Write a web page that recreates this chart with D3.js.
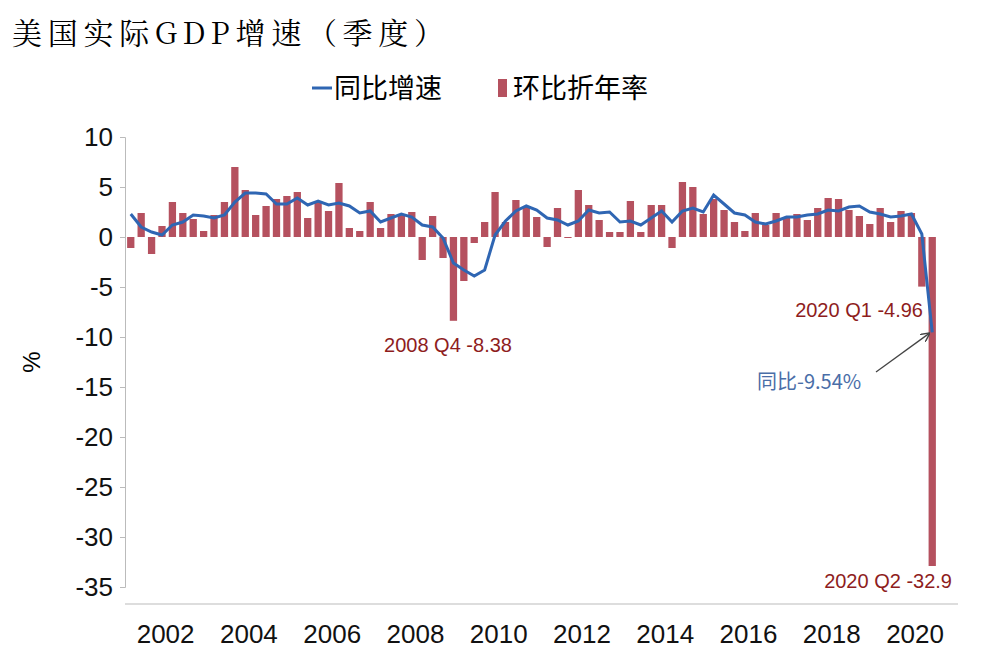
<!DOCTYPE html><html><head><meta charset="utf-8">
<script src="https://cdn.jsdelivr.net/npm/d3@7"></script>
<style>body{margin:0;background:#fff}</style></head><body>
<svg id="c" width="1000" height="668"></svg>
<script>
const years=[2001,2002,2003,2004,2005,2006,2007,2008,2009,2010,2011,2012,2013,2014,2015,2016,2017,2018,2019,2020];
const qoq=[-1.1,2.4,-1.7,1.1, 3.5,2.4,1.8,0.6, 2.2,3.5,7.0,4.7, 2.2,3.1,3.8,4.1, 4.5,1.9,3.6,2.6,
 5.4,0.9,0.6,3.5, 0.9,2.3,2.2,2.5, -2.3,2.1,-2.1,-8.38, -4.4,-0.6,1.5,4.5, 1.5,3.7,3.0,2.0,
 -1.0,2.9,-0.1,4.7, 3.2,1.7,0.5,0.5, 3.6,0.5,3.2,3.2, -1.1,5.5,5.0,2.3, 3.8,2.7,1.5,0.6,
 2.4,1.2,2.4,2.0, 2.3,1.7,2.9,3.9, 3.8,2.7,2.1,1.3, 2.9,1.5,2.6,2.4, -4.96,-32.9];
const yoy=[2.3,1.0,0.5,0.2, 1.2,1.5,2.2,2.1, 1.9,2.2,3.5,4.4, 4.4,4.3,3.3,3.3, 3.9,3.2,3.6,3.2,
 3.4,3.1,2.4,2.6, 1.5,1.9,2.3,2.0, 1.2,1.0,-0.1,-2.6, -3.3,-3.9,-3.3,0.2, 1.6,2.6,3.1,2.7,
 1.9,1.7,1.2,1.6, 2.7,2.4,2.5,1.5, 1.6,1.2,1.9,2.6, 1.5,2.6,2.9,2.5, 4.2,3.3,2.4,2.2,
 1.5,1.3,1.6,2.0, 2.0,2.2,2.3,2.7, 2.6,3.0,3.1,2.5, 2.3,2.0,2.1,2.3, 0.3,-9.54];
const yTicks=[10,5,0,-5,-10,-15,-20,-25,-30,-35];
const xLabels=[2002,2004,2006,2008,2010,2012,2014,2016,2018,2020];
const quarters=qoq.map((d,i)=>years[Math.floor(i/4)]+"Q"+(i%4+1));

const svg=d3.select("#c");
const F="'Liberation Sans',Arial,sans-serif", C="'Noto Sans CJK SC',sans-serif";
const x=d3.scaleBand().domain(quarters).range([124,939]).padding(0.3);
const y=d3.scaleLinear().domain([-35,10]).range([587,137]);
const red="#b5515f", blue="#2f66b3", dred="#8e1d1d";

svg.append("text").attr("x",12).attr("y",44).attr("font-family","'Noto Serif CJK SC','Noto Sans CJK SC',serif").attr("font-size",30).attr("textLength",432).text("美国实际GDP增速（季度）");
const lg=svg.append("g").attr("font-family",C).attr("font-size",27);
lg.append("line").attr("x1",312).attr("x2",332).attr("y1",88).attr("y2",88).attr("stroke",blue).attr("stroke-width",3);
lg.append("text").attr("x",334).attr("y",98).text("同比增速");
lg.append("rect").attr("x",498).attr("y",79).attr("width",9).attr("height",18).attr("fill",red);
lg.append("text").attr("x",513).attr("y",98).text("环比折年率");

svg.selectAll("rect.b").data(qoq).join("rect").attr("class","b")
 .attr("x",(d,i)=>x(quarters[i])).attr("width",x.bandwidth())
 .attr("y",d=>y(Math.max(0,d))).attr("height",d=>Math.abs(y(d)-y(0))).attr("fill",red);

svg.append("path").datum(yoy).attr("fill","none").attr("stroke",blue).attr("stroke-width",3)
 .attr("d",d3.line().x((d,i)=>x(quarters[i])+x.bandwidth()/2).y(d=>y(d)));

const ya=svg.append("g").attr("transform","translate(125,0)").call(d3.axisLeft(y).tickValues(yTicks).tickSize(5).tickFormat(d=>String(d)));
ya.select(".domain").attr("stroke","#bbb");ya.selectAll("line").attr("stroke","#bbb");
ya.selectAll("text").attr("font-family",F).attr("font-size",26).attr("fill","#111").attr("x",-12);
const bx=svg.append("g");
bx.append("line").attr("x1",125).attr("x2",958).attr("y1",604).attr("y2",604).attr("stroke","#bbb");
bx.selectAll("text").data(xLabels).join("text").attr("x",d=>x(d+"Q1")-x.step()*0.3).attr("y",643)
 .attr("text-anchor","middle").attr("font-family",F).attr("font-size",26).attr("fill","#111").text(d=>d);
svg.append("text").attr("transform","translate(40,362) rotate(-90)").attr("text-anchor","middle").attr("font-family",F).attr("font-size",24).text("%");

const ann=svg.append("g").attr("font-family",F).attr("font-size",20);
ann.append("text").attr("x",448).attr("y",352).attr("text-anchor","middle").attr("fill",dred).text("2008 Q4 -8.38");
ann.append("text").attr("x",923).attr("y",317).attr("text-anchor","end").attr("fill",dred).text("2020 Q1 -4.96");
ann.append("text").attr("x",952).attr("y",588).attr("text-anchor","end").attr("fill",dred).text("2020 Q2 -32.9");
ann.append("text").attr("x",757).attr("y",389).attr("fill","#4a6ea8").attr("font-family",C).text("同比-9.54%");
svg.append("defs").append("marker").attr("id","ar").attr("viewBox","0 0 10 10").attr("refX",9).attr("refY",5).attr("markerWidth",7).attr("markerHeight",7).attr("orient","auto")
 .append("path").attr("d","M0,0L10,5L0,10").attr("fill","none").attr("stroke","#444").attr("stroke-width",1.5);
svg.append("line").attr("x1",876).attr("y1",372).attr("x2",x("2020Q2")+x.bandwidth()/2-3).attr("y2",y(-9.54)+1).attr("stroke","#444").attr("stroke-width",1.3).attr("marker-end","url(#ar)");
</script></body></html>
